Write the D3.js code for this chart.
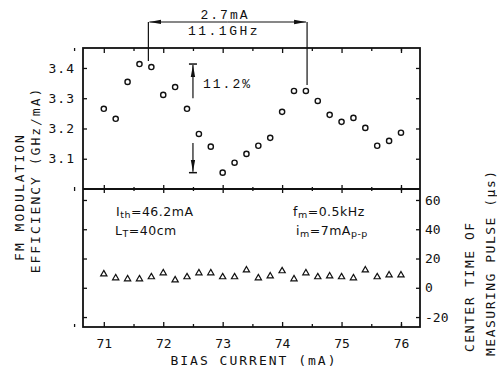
<!DOCTYPE html>
<html>
<head>
<meta charset="utf-8">
<script src="https://cdn.jsdelivr.net/npm/d3@7"></script>
<style>
  body { margin: 0; background: #fff; }
  svg { display: block; }
  .mono { font-family: "DejaVu Sans Mono", monospace; fill: #111; }
  .ann { font-family: "Liberation Mono", "DejaVu Sans Mono", monospace; fill: #111; }
  .note { font-family: "DejaVu Sans", sans-serif; fill: #111; }
</style>
</head>
<body>
<svg id="chart" width="497" height="370"></svg>
<script>
// bias current (mA), one reading every 0.2 mA
const current = [71.0, 71.2, 71.4, 71.6, 71.8, 72.0, 72.2, 72.4, 72.6, 72.8,
  73.0, 73.2, 73.4, 73.6, 73.8, 74.0, 74.2, 74.4, 74.6, 74.8,
  75.0, 75.2, 75.4, 75.6, 75.8, 76.0];

// FM modulation efficiency (GHz/mA), circles
const efficiency = [3.265, 3.232, 3.354, 3.413, 3.403, 3.311, 3.337, 3.265, 3.182, 3.140,
  3.054, 3.087, 3.116, 3.143, 3.169, 3.255, 3.324, 3.324, 3.291, 3.245,
  3.222, 3.235, 3.202, 3.143, 3.159, 3.186];

// center time of measuring pulse (us), triangles
const centerTime = [9.4, 6.7, 6.0, 6.0, 7.4, 10.1, 5.3, 7.4, 10.1, 10.1,
  7.4, 7.4, 12.1, 6.7, 8.0, 11.5, 6.0, 10.1, 7.4, 8.0,
  7.4, 6.7, 12.1, 7.4, 8.7, 8.7];

const xTicks = [71, 72, 73, 74, 75, 76];
const xMinorTicks = [70.5, 71.5, 72.5, 73.5, 74.5, 75.5, 76];
const effTicks = [3.1, 3.2, 3.3, 3.4];
const timeTicks = [-20, 0, 20, 40, 60];

// bracket showing the spacing of the two maxima
const bracketX = [71.75, 74.42];
const bracketEnds = [3.423, 3.344];

const svg = d3.select("#chart");
const pLeft = 83, pRight = 420, pTop = 48, pBottom = 327;

const x = d3.scaleLinear().domain([70.65, 76.32]).range([pLeft, pRight]);
const yTop = d3.scaleLinear().domain([3.0, 3.466]).range([189, pTop]);
const yBot = d3.scaleLinear().domain([-26.8, 67.5]).range([pBottom, 189]);
const mid = yTop(3.0);

const ink = "#111";

// helper: draw an axis with no domain path
const drawAxis = (axis, tx, ty) => {
  const g = svg.append("g").attr("transform", `translate(${tx},${ty})`).call(axis);
  g.select(".domain").remove();
  g.selectAll("line").attr("stroke", ink).attr("stroke-width", 1.3);
  g.selectAll("text").attr("class", "mono").attr("fill", ink);
  return g;
};

// x ticks: bottom (inward), top (inward), divider (both ways)
drawAxis(d3.axisBottom(x).tickValues(xTicks).tickSize(-5).tickPadding(12)
  .tickFormat(d3.format("d")), 0, pBottom)
  .selectAll("text").style("font-size", "13px").attr("dy", "0.71em");
drawAxis(d3.axisBottom(x).tickValues(xMinorTicks).tickSize(-3).tickFormat(""), 0, pBottom);
drawAxis(d3.axisTop(x).tickValues(xTicks).tickSize(-5).tickFormat(""), 0, pTop);
drawAxis(d3.axisTop(x).tickValues(xMinorTicks).tickSize(-3).tickFormat(""), 0, pTop);
drawAxis(d3.axisTop(x).tickValues(xTicks).tickSize(4).tickFormat(""), 0, mid);
drawAxis(d3.axisBottom(x).tickValues(xTicks).tickSize(4).tickFormat(""), 0, mid);
drawAxis(d3.axisTop(x).tickValues(xMinorTicks).tickSize(2).tickFormat(""), 0, mid);
drawAxis(d3.axisBottom(x).tickValues(xMinorTicks).tickSize(2).tickFormat(""), 0, mid);

// left axis, upper panel
drawAxis(d3.axisLeft(yTop).tickValues(effTicks).tickSize(-4).tickPadding(8)
  .tickFormat(d3.format(".1f")), pLeft, 0)
  .selectAll("text").style("font-size", "13px").style("letter-spacing", "1px");
drawAxis(d3.axisLeft(yBot).tickValues(timeTicks).tickSize(-4).tickFormat(""), pLeft, 0);
// right axis
drawAxis(d3.axisRight(yTop).tickValues(effTicks).tickSize(-4).tickFormat(""), pRight, 0);
drawAxis(d3.axisRight(yBot).tickValues(timeTicks).tickSize(-4).tickPadding(5)
  .tickFormat(d => d < 0 ? "-" + Math.abs(d) : String(d)), pRight, 0)
  .selectAll("text").style("font-size", "13px");

// frame and divider
svg.append("rect").attr("x", pLeft).attr("y", pTop)
  .attr("width", pRight - pLeft).attr("height", pBottom - pTop)
  .attr("fill", "none").attr("stroke", ink).attr("stroke-width", 1.8);
svg.append("line").attr("x1", pLeft).attr("x2", pRight).attr("y1", mid).attr("y2", mid)
  .attr("stroke", ink).attr("stroke-width", 1.8);

// data marks
svg.append("g").selectAll("circle").data(current).join("circle")
  .attr("cx", d => x(d))
  .attr("cy", (d, i) => yTop(efficiency[i]))
  .attr("r", 2.6)
  .attr("fill", "#fff").attr("stroke", ink).attr("stroke-width", 1.4);

const tri = d3.symbol(d3.symbolTriangle).size(17);
svg.append("g").selectAll("path").data(current).join("path")
  .attr("d", tri)
  .attr("transform", (d, i) => `translate(${x(d)},${yBot(centerTime[i])})`)
  .attr("fill", "#fff").attr("stroke", ink).attr("stroke-width", 1.2);

// arrowheads
const defs = svg.append("defs");
defs.append("marker").attr("id", "head")
  .attr("viewBox", "0 0 12 6").attr("refX", 12).attr("refY", 3)
  .attr("markerWidth", 12).attr("markerHeight", 6)
  .attr("markerUnits", "userSpaceOnUse").attr("orient", "auto")
  .append("path").attr("d", "M0,0.8 L12,3 L0,5.2 Z").attr("fill", ink);

// bracket 2.7 mA / 11.1 GHz
const bTop = yTop(3.552);
svg.append("line").attr("x1", x(bracketX[0])).attr("x2", x(bracketX[0]))
  .attr("y1", bTop).attr("y2", yTop(bracketEnds[0])).attr("stroke", ink).attr("stroke-width", 1.2);
svg.append("line").attr("x1", x(bracketX[1])).attr("x2", x(bracketX[1]))
  .attr("y1", bTop).attr("y2", yTop(bracketEnds[1])).attr("stroke", ink).attr("stroke-width", 1.2);
const bMid = (x(bracketX[0]) + x(bracketX[1])) / 2;
svg.append("line").attr("x1", bMid).attr("x2", x(bracketX[0]) + 1)
  .attr("y1", bTop).attr("y2", bTop).attr("stroke", ink).attr("stroke-width", 1.2)
  .attr("marker-end", "url(#head)");
svg.append("line").attr("x1", bMid).attr("x2", x(bracketX[1]) - 1)
  .attr("y1", bTop).attr("y2", bTop).attr("stroke", ink).attr("stroke-width", 1.2)
  .attr("marker-end", "url(#head)");
svg.append("text").attr("class", "ann").attr("x", 225).attr("y", bTop - 2.5)
  .attr("text-anchor", "middle").style("font-size", "13px").style("letter-spacing", "2px")
  .text("2.7mA");
svg.append("text").attr("class", "ann").attr("x", 224).attr("y", bTop + 13.5)
  .attr("text-anchor", "middle").style("font-size", "13px").style("letter-spacing", "2.5px")
  .text("11.1GHz");

// 11.2 % spread
const ax = x(72.5);
const effMax = d3.max(efficiency), effMin = d3.min(efficiency);
svg.append("line").attr("x1", ax).attr("x2", ax).attr("y1", yTop(3.3)).attr("y2", yTop(effMax) + 1)
  .attr("stroke", ink).attr("stroke-width", 1.2).attr("marker-end", "url(#head)");
svg.append("line").attr("x1", ax).attr("x2", ax).attr("y1", yTop(3.152)).attr("y2", yTop(effMin) - 1)
  .attr("stroke", ink).attr("stroke-width", 1.2).attr("marker-end", "url(#head)");
[effMax, effMin].forEach(v => {
  svg.append("line").attr("x1", ax - 4).attr("x2", ax + 4)
    .attr("y1", yTop(v)).attr("y2", yTop(v)).attr("stroke", ink).attr("stroke-width", 1.5);
});
svg.append("text").attr("class", "ann").attr("x", 203).attr("y", 88)
  .style("font-size", "13px").style("letter-spacing", "2px").text("11.2%");

// notes in the lower panel
const note = (tx, ty, parts) => {
  const t = svg.append("text").attr("class", "note").attr("x", tx).attr("y", ty)
    .style("font-size", "12.5px").style("letter-spacing", "0.5px");
  parts.forEach(([s, sub]) => {
    t.append("tspan").attr("baseline-shift", sub ? "-2" : null)
      .style("font-size", sub ? "9.5px" : null).text(s);
  });
};
note(116, 216, [["I"], ["th", true], ["=46.2mA"]]);
note(115, 235, [["L"], ["T", true], ["=40cm"]]);
note(293, 216, [["f"], ["m", true], ["=0.5kHz"]]);
note(296, 235, [["i"], ["m", true], ["=7mA"], ["p-p", true]]);

// axis titles
svg.append("text").attr("class", "mono").attr("x", 254).attr("y", 365)
  .attr("text-anchor", "middle").style("font-size", "13px").style("letter-spacing", "2px")
  .text("BIAS CURRENT (mA)");
svg.append("text").attr("class", "mono")
  .attr("transform", "translate(24,197) rotate(-90)")
  .attr("text-anchor", "middle").style("font-size", "13px").style("letter-spacing", "2px")
  .text("FM MODULATION");
svg.append("text").attr("class", "mono")
  .attr("transform", "translate(40,180) rotate(-90)")
  .attr("text-anchor", "middle").style("font-size", "13px").style("letter-spacing", "2px")
  .text("EFFICIENCY (GHz/mA)");
svg.append("text").attr("class", "mono")
  .attr("transform", "translate(474,352) rotate(-90)")
  .style("font-size", "13px").style("letter-spacing", "1.5px")
  .text("CENTER TIME OF");
svg.append("text").attr("class", "mono")
  .attr("transform", "translate(495,356) rotate(-90)")
  .style("font-size", "13px").style("letter-spacing", "1.5px")
  .text("MEASURING PULSE (µs)");
</script>
</body>
</html>
